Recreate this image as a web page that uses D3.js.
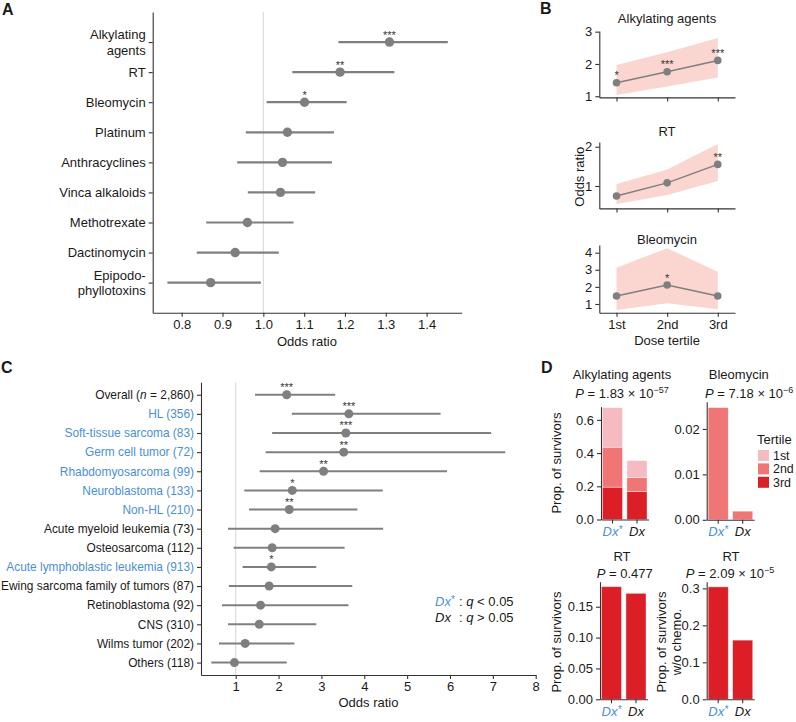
<!DOCTYPE html>
<html><head><meta charset="utf-8">
<script src="https://cdn.jsdelivr.net/npm/d3@7"></script>
<style>
body{margin:0;background:#fff}
svg{display:block;font-family:"Liberation Sans",Arial,Helvetica,sans-serif}
</style></head><body>
<svg id="c" width="796" height="722"></svg>
<script>
// ---------- Panel A data ----------
const drugsA = ["Alkylating agents","RT","Bleomycin","Platinum","Anthracyclines","Vinca alkaloids","Methotrexate","Dactinomycin","Epipodophyllotoxins"];
const drugLinesA = [["Alkylating","agents"],["RT"],["Bleomycin"],["Platinum"],["Anthracyclines"],["Vinca alkaloids"],["Methotrexate"],["Dactinomycin"],["Epipodo-","phyllotoxins"]];
const orA = [1.309,1.188,1.101,1.059,1.047,1.042,0.961,0.931,0.871];
const loA = [1.184,1.071,1.008,0.957,0.936,0.962,0.860,0.837,0.765];
const hiA = [1.452,1.321,1.204,1.173,1.168,1.127,1.074,1.038,0.994];
const sigA = ["***","**","*","","","","","",""];
const ticksA = [0.8,0.9,1.0,1.1,1.2,1.3,1.4];

// ---------- Panel B data ----------
const tertiles = ["1st","2nd","3rd"];
const bTitles = ["Alkylating agents","RT","Bleomycin"];
const bAlkOR = [1.42,1.76,2.11], bAlkLo = [1.04,1.30,1.58], bAlkHi = [1.97,2.36,2.80], bAlkSig = ["*","***","***"];
const bRtOR = [0.745,1.08,1.55], bRtLo = [0.54,0.77,1.13], bRtHi = [1.05,1.42,2.07], bRtSig = ["","","**"];
const bBleoOR = [1.47,2.11,1.47], bBleoLo = [0.65,1.04,0.69], bBleoHi = [3.12,4.26,2.89], bBleoSig = ["","*",""];
const bTicks = [[1,2,3],[1,2],[1,2,3,4]];

// ---------- Panel C data ----------
const namesC = ["Overall (n = 2,860)","HL (356)","Soft-tissue sarcoma (83)","Germ cell tumor (72)","Rhabdomyosarcoma (99)","Neuroblastoma (133)","Non-HL (210)","Acute myeloid leukemia (73)","Osteosarcoma (112)","Acute lymphoblastic leukemia (913)","Ewing sarcoma family of tumors (87)","Retinoblastoma (92)","CNS (310)","Wilms tumor (202)","Others (118)"];
const orC = [2.19,3.64,3.57,3.52,3.05,2.32,2.25,1.92,1.85,1.83,1.78,1.58,1.55,1.22,0.97];
const loC = [1.45,2.31,1.85,1.70,1.56,1.20,1.31,0.82,0.95,1.16,0.84,0.68,0.82,0.61,0.43];
const hiC = [3.32,5.78,6.96,7.29,5.93,4.43,3.84,4.44,3.54,2.88,3.72,3.63,2.88,2.37,2.19];
const sigC = ["***","***","***","**","**","*","**","","","*","","","","",""];
const signifC = [false,true,true,true,true,true,true,false,false,true,false,false,false,false,false];
const ticksC = [1,2,3,4,5,6,7,8];

// ---------- Panel D data ----------
const groupsD = ["Dx*","Dx"];
const alkT3 = [0.195,0.169], alkT2 = [0.2405,0.084], alkT1 = [0.2375,0.102];
const bleoT2 = [0.0247,0.0019];
const rtAll = [0.1824,0.1717];
const rtNoChemo = [0.304,0.160];
const tertileLabels = ["1st","2nd","3rd"];

// ---------- styles ----------
const BLUE = "#4a8fd8", GRAY = "#7f7f7f", INK = "#1a1a1a", AX = "#333";
const COL = {t1:"#f6bac1", t2:"#f07676", t3:"#dc1f27"};
const svg = d3.select("#c");
svg.append("rect").attr("width",796).attr("height",722).attr("fill","#fff");

function styleAxis(g, fs){
  g.attr("font-size",fs).attr("font-family",null);
  g.selectAll("path.domain").attr("stroke",AX).attr("stroke-width",1.1);
  g.selectAll(".tick line").attr("stroke",AX).attr("stroke-width",1.1);
  g.selectAll(".tick text").attr("fill",INK);
}
function label(txt,x,y,opt={}){
  const t = svg.append("text").attr("x",x).attr("y",y).text(txt)
    .attr("font-size",opt.fs||13).attr("fill",opt.fill||INK)
    .attr("text-anchor",opt.anchor||"middle");
  if(opt.bold) t.attr("font-weight","bold");
  if(opt.rot) t.attr("transform",`rotate(-90,${x},${y})`);
  return t;
}
// panel letters
label("A",2,15,{fs:16,bold:true,anchor:"start"});
label("B",540,14,{fs:16,bold:true,anchor:"start"});
label("C",1,373,{fs:16,bold:true,anchor:"start"});
label("D",541,373,{fs:16,bold:true,anchor:"start"});

// ================= Panel A =================
(function(){
  const x = d3.scaleLinear().domain([0.729,1.486]).range([152.7,461.7]);
  const y = d3.scalePoint().domain(drugsA).range([12,312.7]).padding(1);
  const g = svg.append("g");
  g.append("line").attr("x1",x(1)).attr("x2",x(1)).attr("y1",12).attr("y2",312.7)
    .attr("stroke","#d6d6d6").attr("stroke-width",1);
  const ax = g.append("g").attr("transform","translate(0,312.7)")
    .call(d3.axisBottom(x).tickValues(ticksA).tickFormat(d3.format(".1f")).tickSize(4).tickSizeOuter(0));
  styleAxis(ax,13);
  const ay = g.append("g").attr("transform","translate(152.7,0)")
    .call(d3.axisLeft(y).tickSize(4).tickSizeOuter(0));
  styleAxis(ay,13);
  ay.selectAll(".tick text").each(function(d){
    const lines = drugLinesA[drugsA.indexOf(d)];
    const t = d3.select(this).text(null).attr("dy",null);
    if(lines.length===1){ t.append("tspan").attr("x",-7).attr("dy","0.34em").text(lines[0]); }
    else { t.append("tspan").attr("x",-7).attr("dy","-0.24em").text(lines[0]);
           t.append("tspan").attr("x",-7).attr("dy","1.18em").text(lines[1]); }
  });
  drugsA.forEach((d,i)=>{
    g.append("line").attr("x1",x(loA[i])).attr("x2",x(hiA[i])).attr("y1",y(d)).attr("y2",y(d))
      .attr("stroke",GRAY).attr("stroke-width",2.2);
    g.append("circle").attr("cx",x(orA[i])).attr("cy",y(d)).attr("r",4.7).attr("fill",GRAY);
    if(sigA[i]) g.append("text").attr("x",x(orA[i])).attr("y",y(d)-3.5).attr("text-anchor","middle")
      .attr("font-size",11).attr("fill","#333").text(sigA[i]);
  });
  label("Odds ratio",307,346,{fs:13});
})();

// ================= Panel B =================
(function(){
  const x = d3.scalePoint().domain(tertiles).range([599.3,735]).padding(0.34);
  const subs = [
    {title:bTitles[0], ty:22.7, or:bAlkOR, lo:bAlkLo, hi:bAlkHi, sig:bAlkSig, dom:[0.965,3.02], rng:[97.4,31], ticks:bTicks[0], xl:false},
    {title:bTitles[1], ty:136.4, or:bRtOR, lo:bRtLo, hi:bRtHi, sig:bRtSig, dom:[0.43,2.12], rng:[208.4,142], ticks:bTicks[1], xl:false},
    {title:bTitles[2], ty:244, or:bBleoOR, lo:bBleoLo, hi:bBleoHi, sig:bBleoSig, dom:[0.49,4.45], rng:[312.7,245], ticks:bTicks[2], xl:true}
  ];
  subs.forEach(s=>{
    const y = d3.scaleLinear().domain(s.dom).range(s.rng);
    const g = svg.append("g");
    const pts = tertiles.map((t,i)=>({t, or:s.or[i], lo:s.lo[i], hi:s.hi[i], sig:s.sig[i]}));
    g.append("path").datum(pts).attr("fill","#fbd5cf")
      .attr("d", d3.area().x(d=>x(d.t)).y0(d=>y(d.lo)).y1(d=>y(d.hi)));
    g.append("path").datum(pts).attr("fill","none").attr("stroke",GRAY).attr("stroke-width",1.5)
      .attr("d", d3.line().x(d=>x(d.t)).y(d=>y(d.or)));
    pts.forEach(d=>{
      g.append("circle").attr("cx",x(d.t)).attr("cy",y(d.or)).attr("r",3.8).attr("fill",GRAY);
      if(d.sig) g.append("text").attr("x",x(d.t)).attr("y",y(d.or)-3.3).attr("text-anchor","middle")
        .attr("font-size",11).attr("fill","#333").text(d.sig);
    });
    const ax = g.append("g").attr("transform",`translate(0,${s.rng[0]})`)
      .call(d3.axisBottom(x).tickSize(4).tickSizeOuter(0).tickFormat(s.xl? (d=>d) : ""));
    styleAxis(ax,13);
    const ay = g.append("g").attr("transform","translate(599.3,0)")
      .call(d3.axisLeft(y).tickValues(s.ticks).tickFormat(d3.format("d")).tickSize(4).tickSizeOuter(0));
    styleAxis(ay,13);
    label(s.title,667,s.ty,{fs:13});
  });
  label("Odds ratio",583.8,176.7,{fs:13,rot:true});
  label("Dose tertile",667,345.4,{fs:13});
})();

// ================= Panel C =================
(function(){
  const x = d3.scaleLinear().domain([0.19,8.0]).range([201,535.7]);
  const y = d3.scalePoint().domain(namesC).range([382.3,675]).padding(0.65);
  const g = svg.append("g");
  g.append("line").attr("x1",x(1)).attr("x2",x(1)).attr("y1",382.3).attr("y2",675)
    .attr("stroke","#d6d6d6").attr("stroke-width",1);
  const ax = g.append("g").attr("transform","translate(0,675)")
    .call(d3.axisBottom(x).tickValues(ticksC).tickFormat(d3.format("d")).tickSize(4).tickSizeOuter(0));
  styleAxis(ax,13);
  const ay = g.append("g").attr("transform","translate(201,0)")
    .call(d3.axisLeft(y).tickSize(4).tickSizeOuter(0));
  styleAxis(ay,11.9);
  ay.selectAll(".tick text").each(function(d){
    const i = namesC.indexOf(d);
    const t = d3.select(this).attr("fill", signifC[i] ? BLUE : INK);
    if(d.indexOf("(n =")>=0){
      t.text(null);
      t.append("tspan").text("Overall (");
      t.append("tspan").attr("font-style","italic").text("n");
      t.append("tspan").text(" = 2,860)");
    }
  });
  namesC.forEach((d,i)=>{
    g.append("line").attr("x1",x(loC[i])).attr("x2",x(hiC[i])).attr("y1",y(d)).attr("y2",y(d))
      .attr("stroke",GRAY).attr("stroke-width",2);
    g.append("circle").attr("cx",x(orC[i])).attr("cy",y(d)).attr("r",4.5).attr("fill",GRAY);
    if(sigC[i]) g.append("text").attr("x",x(orC[i])).attr("y",y(d)-3.5).attr("text-anchor","middle")
      .attr("font-size",11).attr("fill","#333").text(sigC[i]);
  });
  label("Odds ratio",368.5,707.4,{fs:13});
  // legend
  const l1 = svg.append("text").attr("x",435).attr("y",606.4).attr("font-size",13).attr("fill",INK);
  l1.append("tspan").attr("font-style","italic").attr("fill",BLUE).text("Dx");
  l1.append("tspan").attr("fill",BLUE).attr("font-size",10).attr("dy",-3).text("*");
  const l1b = svg.append("text").attr("x",459).attr("y",606.4).attr("font-size",13).attr("fill",INK);
  l1b.append("tspan").text(": ");
  l1b.append("tspan").attr("font-style","italic").text("q");
  l1b.append("tspan").text(" < 0.05");
  const l2 = svg.append("text").attr("x",435).attr("y",622).attr("font-size",13).attr("fill",INK);
  l2.append("tspan").attr("font-style","italic").text("Dx");
  const l2b = svg.append("text").attr("x",459).attr("y",622).attr("font-size",13).attr("fill",INK);
  l2b.append("tspan").text(": ");
  l2b.append("tspan").attr("font-style","italic").text("q");
  l2b.append("tspan").text(" > 0.05");
})();

// ================= Panel D =================
function pText(x,y,mant,exp,anchor){
  const t = svg.append("text").attr("x",x).attr("y",y).attr("font-size",13).attr("fill",INK)
    .attr("text-anchor",anchor||"middle");
  t.append("tspan").attr("font-style","italic").text("P");
  t.append("tspan").text(" = " + mant + (exp ? " × 10" : ""));
  if(exp) t.append("tspan").attr("font-size",9).attr("dy",-5).text(exp);
}
function barPanel(o){
  const x = d3.scaleBand().domain(groupsD).range([o.x0,o.x0+47.5]).paddingInner(0.18).paddingOuter(0.06);
  const y = d3.scaleLinear().domain([0,o.max]).range([o.yb,o.yt]);
  const g = svg.append("g");
  o.layers.forEach(L=>{
    L.data.forEach((seg,i)=>{
      g.append("rect").attr("x",x(groupsD[i])).attr("width",x.bandwidth())
        .attr("y",y(seg[1])).attr("height",y(seg[0])-y(seg[1]))
        .attr("fill",L.color).attr("stroke","#fff").attr("stroke-opacity",0.55).attr("stroke-width",0.7);
    });
  });
  const ay = g.append("g").attr("transform",`translate(${o.x0},0)`)
    .call(d3.axisLeft(y).tickValues(o.ticks).tickFormat(d3.format(o.fmt)).tickSize(4).tickSizeOuter(0));
  styleAxis(ay,13);
  const ax = g.append("g").attr("transform",`translate(0,${o.yb})`)
    .call(d3.axisBottom(x).tickSize(4).tickSizeOuter(0));
  styleAxis(ax,13);
  ax.selectAll(".tick text").each(function(d){
    const t = d3.select(this).text(null).attr("font-style","italic");
    if(d==="Dx*"){ t.attr("fill",BLUE); t.append("tspan").text("Dx"); t.append("tspan").attr("font-size",10).attr("dy",-3).text("*"); }
    else t.append("tspan").text("Dx");
  });
  return {x,y};
}
(function(){
  // top-left: alkylating agents stacked
  const rows = groupsD.map((gname,i)=>({g:gname, t3:alkT3[i], t2:alkT2[i], t1:alkT1[i]}));
  const st = d3.stack().keys(["t3","t2","t1"])(rows);
  barPanel({x0:601, yb:519.5, yt:406.6, max:0.68, ticks:[0,0.2,0.4,0.6], fmt:".1f",
    layers: st.map(s=>({color:COL[s.key], data:s.map(v=>[v[0],v[1]])}))});
  label("Alkylating agents",622,378.7,{fs:13});
  pText(622,398,"1.83","−57");
  label("Prop. of survivors",560.5,463,{fs:13,rot:true});

  // top-right: bleomycin
  barPanel({x0:706.7, yb:519.8, yt:401.7, max:0.026, ticks:[0,0.01,0.02], fmt:".2f",
    layers:[{color:COL.t2, data:bleoT2.map(v=>[0,v])}]});
  label("Bleomycin",738.8,378.7,{fs:13});
  pText(705,398,"7.18","−6","start");

  // legend
  label("Tertile",757,443.7,{fs:13,anchor:"start"});
  tertileLabels.forEach((t,i)=>{
    const cy = 455.5 + i*13.4;
    svg.append("rect").attr("x",758).attr("y",cy-5.5).attr("width",11).attr("height",11).attr("fill",[COL.t1,COL.t2,COL.t3][i]);
    label(t,773,cy+4.3,{fs:12.4,anchor:"start"});
  });

  // bottom-left: RT
  barPanel({x0:600, yb:699.3, yt:581.7, max:0.1905, ticks:[0,0.05,0.10,0.15], fmt:".2f",
    layers:[{color:COL.t3, data:rtAll.map(v=>[0,v])}]});
  label("RT",622,560.8,{fs:13});
  pText(624.7,578.3,"0.477",null);
  label("Prop. of survivors",560.5,642,{fs:13,rot:true});

  // bottom-right: RT without chemo
  barPanel({x0:706.7, yb:699.3, yt:581.7, max:0.318, ticks:[0,0.1,0.2,0.3], fmt:".1f",
    layers:[{color:COL.t3, data:rtNoChemo.map(v=>[0,v])}]});
  label("RT",731,560.8,{fs:13});
  pText(730,578.3,"2.09","−5");
  label("Prop. of survivors",666.3,642,{fs:13,rot:true});
  label("w/o chemo.",681.3,642,{fs:13,rot:true});
})();
</script></body></html>
